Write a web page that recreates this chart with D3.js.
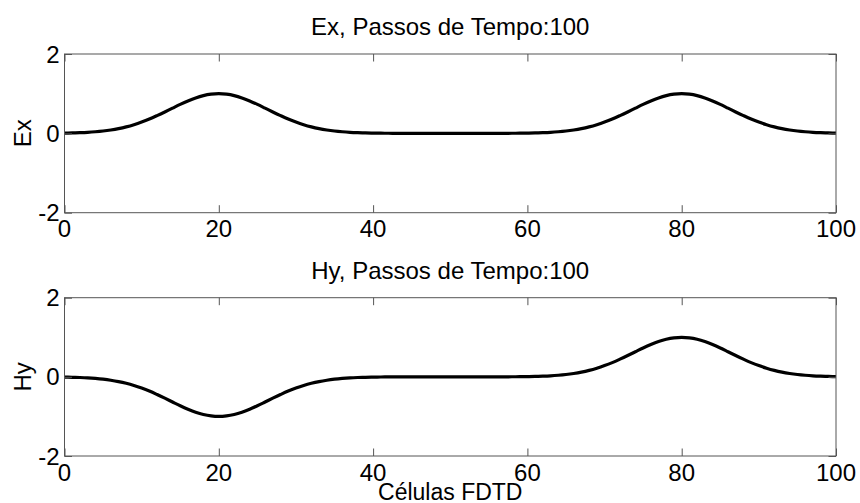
<!DOCTYPE html>
<html>
<head>
<meta charset="utf-8">
<script src="https://cdn.jsdelivr.net/npm/d3@7"></script>
<style>
  html, body { margin: 0; padding: 0; background: #fff; }
  svg { display: block; font-family: "Liberation Sans", Arial, sans-serif; }
</style>
</head>
<body>
<svg id="chart" width="860" height="503"></svg>
<script>
// ---- Data ----
const cells = d3.range(0, 101); // FDTD cell index 0..100
const xTicks = [0, 20, 40, 60, 80, 100];
const yTicks = [-2, 0, 2];
const titles = ["Ex, Passos de Tempo:100", "Hy, Passos de Tempo:100"];
const yLabels = ["Ex", "Hy"];
const xLabel = "Células FDTD";

const exValues = [
  0.006, 0.011, 0.017, 0.026, 0.040, 0.059, 0.085, 0.119, 0.163, 0.218,
  0.284, 0.360, 0.447, 0.539, 0.635, 0.730, 0.817, 0.893, 0.951, 0.987,
  1.000, 0.987, 0.951, 0.893, 0.817, 0.730, 0.635, 0.539, 0.447, 0.360,
  0.284, 0.218, 0.163, 0.119, 0.085, 0.059, 0.040, 0.026, 0.017, 0.011,
  0.006, 0.004, 0.002, 0.001, 0.000, 0.000, 0.000, 0.000, 0.000, 0.000,
  0.000, 0.000, 0.000, 0.000, 0.000, 0.000, 0.000, 0.001, 0.002, 0.004,
  0.006, 0.011, 0.017, 0.026, 0.040, 0.059, 0.085, 0.119, 0.163, 0.218,
  0.284, 0.360, 0.447, 0.539, 0.635, 0.730, 0.817, 0.893, 0.951, 0.987,
  1.000, 0.987, 0.951, 0.893, 0.817, 0.730, 0.635, 0.539, 0.447, 0.360,
  0.284, 0.218, 0.163, 0.119, 0.085, 0.059, 0.040, 0.026, 0.017, 0.011,
  0.006
];

const hyValues = [
  -0.006, -0.011, -0.017, -0.026, -0.040, -0.059, -0.085, -0.119, -0.163, -0.218,
  -0.284, -0.360, -0.447, -0.539, -0.635, -0.730, -0.817, -0.893, -0.951, -0.987,
  -1.000, -0.987, -0.951, -0.893, -0.817, -0.730, -0.635, -0.539, -0.447, -0.360,
  -0.284, -0.218, -0.163, -0.119, -0.085, -0.059, -0.040, -0.026, -0.017, -0.011,
  -0.006, -0.004, -0.002, -0.001, 0.000, 0.000, 0.000, 0.000, 0.000, 0.000,
  0.000, 0.000, 0.000, 0.000, 0.000, 0.000, 0.000, 0.001, 0.002, 0.004,
  0.006, 0.011, 0.017, 0.026, 0.040, 0.059, 0.085, 0.119, 0.163, 0.218,
  0.284, 0.360, 0.447, 0.539, 0.635, 0.730, 0.817, 0.893, 0.951, 0.987,
  1.000, 0.987, 0.951, 0.893, 0.817, 0.730, 0.635, 0.539, 0.447, 0.360,
  0.284, 0.218, 0.163, 0.119, 0.085, 0.059, 0.040, 0.026, 0.017, 0.011,
  0.006
];

const series = [exValues, hyValues];

// ---- Layout ----
const svg = d3.select("#chart");
const left = 64.5, right = 836;
const panels = [
  { top: 54, bottom: 212.7 },
  { top: 297.7, bottom: 456 }
];
const fontSize = 24;
const tickLen = 7.5;
const frameColor = "#555";

const x = d3.scaleLinear().domain([0, 100]).range([left, right]);

panels.forEach((p, i) => {
  const y = d3.scaleLinear().domain([-2, 2]).range([p.bottom, p.top]);
  const g = svg.append("g");

  // data line
  const line = d3.line()
    .x((d, j) => x(cells[j]))
    .y(d => y(d))
    .curve(d3.curveMonotoneX);
  g.append("path")
    .datum(series[i])
    .attr("fill", "none")
    .attr("stroke", "#000")
    .attr("stroke-width", 3.2)
    .attr("stroke-linejoin", "round")
    .attr("d", line);

  // box
  g.append("rect")
    .attr("x", left).attr("y", p.top)
    .attr("width", right - left).attr("height", p.bottom - p.top)
    .attr("fill", "none").attr("stroke", frameColor).attr("stroke-width", 1);

  // x ticks (inward, bottom and top)
  const axB = d3.axisBottom(x).tickValues(xTicks).tickSize(-tickLen).tickFormat("");
  const axT = d3.axisTop(x).tickValues(xTicks).tickSize(-tickLen).tickFormat("");
  g.append("g").attr("transform", `translate(0,${p.bottom})`).call(axB)
    .call(s => s.select(".domain").remove())
    .call(s => s.selectAll("line").attr("stroke", frameColor));
  g.append("g").attr("transform", `translate(0,${p.top})`).call(axT)
    .call(s => s.select(".domain").remove())
    .call(s => s.selectAll("line").attr("stroke", frameColor));

  // y ticks (inward, left and right)
  const axL = d3.axisLeft(y).tickValues(yTicks).tickSize(-tickLen).tickFormat("");
  const axR = d3.axisRight(y).tickValues(yTicks).tickSize(-tickLen).tickFormat("");
  g.append("g").attr("transform", `translate(${left},0)`).call(axL)
    .call(s => s.select(".domain").remove())
    .call(s => s.selectAll("line").attr("stroke", frameColor));
  g.append("g").attr("transform", `translate(${right},0)`).call(axR)
    .call(s => s.select(".domain").remove())
    .call(s => s.selectAll("line").attr("stroke", frameColor));

  // x tick labels
  g.selectAll(".xtl").data(xTicks).enter().append("text")
    .attr("x", d => x(d))
    .attr("y", p.bottom + 24.5)
    .attr("text-anchor", "middle")
    .attr("font-size", fontSize)
    .attr("fill", "#000")
    .text(d => d);

  // y tick labels
  g.selectAll(".ytl").data(yTicks).enter().append("text")
    .attr("x", left - 5)
    .attr("y", d => y(d) + 8.5)
    .attr("text-anchor", "end")
    .attr("font-size", fontSize)
    .attr("fill", "#000")
    .text(d => d);

  // title
  g.append("text")
    .attr("x", (left + right) / 2)
    .attr("y", p.top - 19)
    .attr("text-anchor", "middle")
    .attr("font-size", fontSize)
    .attr("fill", "#000")
    .text(titles[i]);

  // y label
  const cy = (p.top + p.bottom) / 2;
  g.append("text")
    .attr("transform", `translate(31,${cy}) rotate(-90)`)
    .attr("text-anchor", "middle")
    .attr("font-size", fontSize)
    .attr("fill", "#000")
    .text(yLabels[i]);
});

// x label
svg.append("text")
  .attr("x", (left + right) / 2)
  .attr("y", 500)
  .attr("text-anchor", "middle")
  .attr("font-size", 23)
  .attr("fill", "#000")
  .text(xLabel);
</script>
</body>
</html>
